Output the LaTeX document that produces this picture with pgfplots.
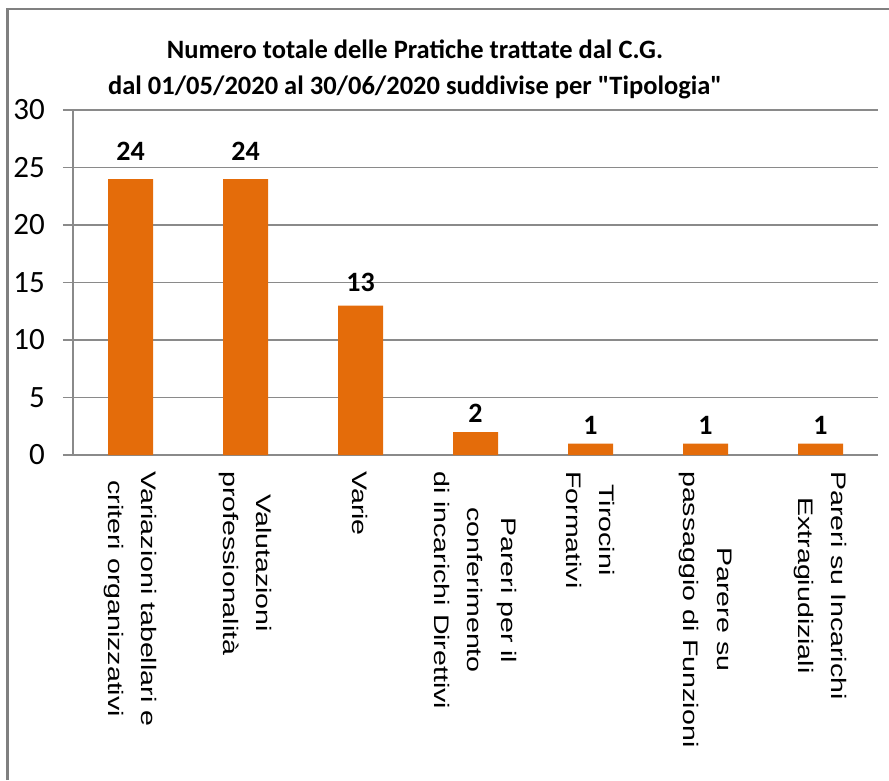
\documentclass[border=0pt]{standalone}
\usepackage{fontspec}
\usepackage{pgfplots}
\usepackage{pgfplotstable}
\usepackage{graphicx}
\pgfplotsset{compat=1.18}
\setmainfont{Liberation Sans}
\newfontfamily\carlito{Carlito}
\definecolor{barorange}{RGB}{228,108,10}
\definecolor{gridgray}{RGB}{138,138,138}
\definecolor{framegray}{RGB}{128,128,128}
\newcommand\s[1]{\scalebox{1.36}[1]{#1}}

\pgfplotstableread{
x y
0 24
1 24
2 13
3 2
4 1
5 1
6 1
}\datatable

\begin{document}
\begin{tikzpicture}[x=1pt,y=1pt]
\useasboundingbox (0,0) rectangle (889,780);
\draw[framegray, line width=2.5pt] (7.5,0) -- (7.5,771) -- (889,771);
\node[font=\carlito\bfseries\fontsize{26.5}{30}\selectfont, anchor=base] at (415,721) {Numero totale delle Pratiche trattate dal C.G.};
\node[font=\carlito\bfseries\fontsize{26.5}{30}\selectfont, anchor=base] at (415,685) {dal 01/05/2020 al 30/06/2020 suddivise per "Tipologia"};
\begin{axis}[
  at={(73pt,325pt)}, anchor=south west,
  scale only axis, width=805pt, height=345pt,
  ymin=0, ymax=30, xmin=-0.5, xmax=6.5,
  ytick={0,5,...,30}, xtick={0,...,6},
  xticklabels={
    {\s{Variazioni tabellari e}\\\s{criteri organizzativi}},
    {\s{Valutazioni}\\\s{professionalità}},
    {\s{Varie}},
    {\s{Pareri per il}\\\s{conferimento}\\\s{di incarichi Direttivi}},
    {\s{Tirocini}\\\s{Formativi}},
    {\s{Parere su}\\\s{passaggio di Funzioni}},
    {\s{Pareri su Incarichi}\\\s{Extragiudiziali}}
  },
  axis lines*=left,
  axis line style={gridgray, line width=1.5pt},
  ymajorgrids, grid style={gridgray, line width=1.5pt},
  tick style={gridgray, line width=1.5pt},
  major tick length=10pt, tick align=outside,
  xtick style={draw=none},
  /pgf/number format/assume math mode=true,
  yticklabel style={font=\carlito\fontsize{31}{34}\selectfont, inner sep=0pt, xshift=-18pt},
  xticklabel style={yshift=-6pt, rotate=-90, anchor=west, inner sep=0pt, align=center, font=\fontsize{21}{33.5}\selectfont},
]
\addplot[ybar, bar width=45pt, fill=barorange, draw=none,
  nodes near coords,
  visualization depends on={rawy \as \yval},
  every node near coord/.append style={font=\carlito\bfseries\fontsize{28}{32}\selectfont, anchor=center, inner sep=0pt, yshift={(18+0.4*\yval)*1pt}, text=black}
] table[x=x, y=y] {\datatable};
\end{axis}
\end{tikzpicture}
\end{document}
